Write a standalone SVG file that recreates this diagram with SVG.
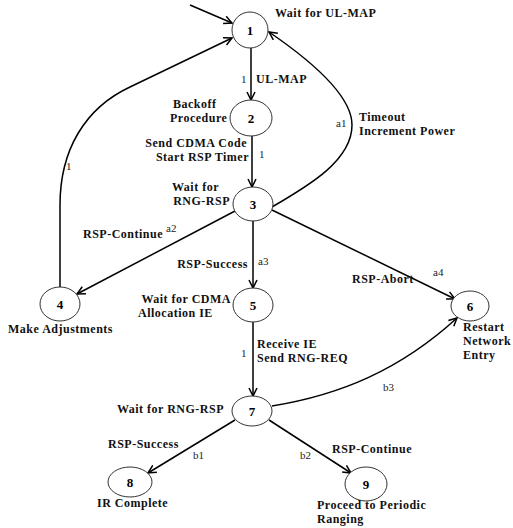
<svg xmlns="http://www.w3.org/2000/svg" width="513" height="528" viewBox="0 0 513 528">
<defs>
<style>
.node ellipse{fill:#fff;stroke:#333;stroke-width:1}
.num{font-family:"Liberation Serif",serif;font-weight:bold;font-size:13px;text-anchor:middle;fill:#000}
.lbl{font-family:"Liberation Serif",serif;font-weight:bold;font-size:12px;letter-spacing:0.5px;fill:#111}
.end{text-anchor:end}
.sm{font-family:"Liberation Serif",serif;font-size:11px;fill:#222}
.edge{fill:none;stroke:#000;stroke-width:1.5;marker-end:url(#arr)}
</style>
<marker id="arr" markerUnits="userSpaceOnUse" markerWidth="12" markerHeight="12" refX="9" refY="5" orient="auto">
<path d="M1,1 L9,5 L1,9" fill="none" stroke="#000" stroke-width="1.5"/>
</marker>
</defs>
<rect width="513" height="528" fill="#fff"/>
<g id="connectors">
<path class="edge" d="M190,5 L232,23"/>
<path class="edge" d="M251,48 L251,100"/>
<path class="edge" d="M252,136 L252,187"/>
<path class="edge" d="M253,221 L253,288"/>
<path class="edge" d="M253,322 L253,396"/>
<path class="edge" d="M235,211 L77,294"/>
<path class="edge" d="M272,210 L455,299"/>
<path class="edge" d="M60,287 L60,205 C60,150 85,108 130,87 L232,38"/>
<path class="edge" d="M272,207 C310,185 352,160 352,125 C352,95 310,60 269,32"/>
<path class="edge" d="M272,406 C340,395 400,370 457,318"/>
<path class="edge" d="M235,420 L148,473"/>
<path class="edge" d="M269,420 L351,473"/>
</g>
<g id="edge-labels">
<text class="sm" x="241" y="83">1</text>
<text class="lbl" x="256" y="83">UL-MAP</text>
<text class="sm" x="259" y="158">1</text>
<text class="lbl end" x="247" y="147">Send CDMA Code</text>
<text class="lbl end" x="249" y="161">Start RSP Timer</text>
<text class="sm" x="336" y="127">a1</text>
<text class="lbl" x="359" y="121">Timeout</text>
<text class="lbl" x="359" y="135">Increment Power</text>
<text class="sm" x="66" y="170">1</text>
<text class="lbl" x="83" y="238">RSP-Continue</text>
<text class="sm" x="166" y="232">a2</text>
<text class="lbl end" x="248" y="268">RSP-Success</text>
<text class="sm" x="258" y="265">a3</text>
<text class="lbl" x="352" y="283">RSP-Abort</text>
<text class="sm" x="433" y="276">a4</text>
<text class="sm" x="241" y="357">1</text>
<text class="lbl" x="257" y="348">Receive IE</text>
<text class="lbl" x="257" y="362">Send RNG-REQ</text>
<text class="sm" x="383" y="391">b3</text>
<text class="lbl" x="108" y="448">RSP-Success</text>
<text class="sm" x="193" y="459">b1</text>
<text class="sm" x="300" y="459">b2</text>
<text class="lbl" x="332" y="453">RSP-Continue</text>
</g>
<g id="node1" class="node"><ellipse cx="250" cy="30" rx="18" ry="18"/><text class="num" x="250" y="35">1</text><text class="lbl" x="275" y="17">Wait for UL-MAP</text></g>
<g id="node2" class="node"><ellipse cx="251" cy="118" rx="21" ry="18"/><text class="num" x="251" y="123">2</text><text class="lbl" x="173" y="108">Backoff</text><text class="lbl" x="170" y="122">Procedure</text></g>
<g id="node3" class="node"><ellipse cx="253" cy="204" rx="20" ry="17"/><text class="num" x="253" y="209">3</text><text class="lbl" x="172" y="191">Wait for</text><text class="lbl end" x="230" y="205">RNG-RSP</text></g>
<g id="node4" class="node"><ellipse cx="60" cy="304" rx="20" ry="17"/><text class="num" x="60" y="309">4</text><text class="lbl" x="8" y="333">Make Adjustments</text></g>
<g id="node5" class="node"><ellipse cx="253" cy="305" rx="20" ry="17"/><text class="num" x="253" y="310">5</text><text class="lbl end" x="231" y="303">Wait for CDMA</text><text class="lbl" x="138" y="317">Allocation IE</text></g>
<g id="node6" class="node"><ellipse cx="470" cy="306" rx="19" ry="15"/><text class="num" x="470" y="311">6</text><text class="lbl" x="463" y="331">Restart</text><text class="lbl" x="463" y="345">Network</text><text class="lbl" x="463" y="359">Entry</text></g>
<g id="node7" class="node"><ellipse cx="252" cy="411" rx="20" ry="15"/><text class="num" x="252" y="416">7</text><text class="lbl end" x="224" y="413">Wait for RNG-RSP</text></g>
<g id="node8" class="node"><ellipse cx="130" cy="482" rx="22" ry="15"/><text class="num" x="130" y="487">8</text><text class="lbl" x="97" y="507">IR Complete</text></g>
<g id="node9" class="node"><ellipse cx="366" cy="484" rx="21" ry="17"/><text class="num" x="366" y="489">9</text><text class="lbl" x="317" y="509">Proceed to Periodic</text><text class="lbl" x="317" y="523">Ranging</text></g>
</svg>
